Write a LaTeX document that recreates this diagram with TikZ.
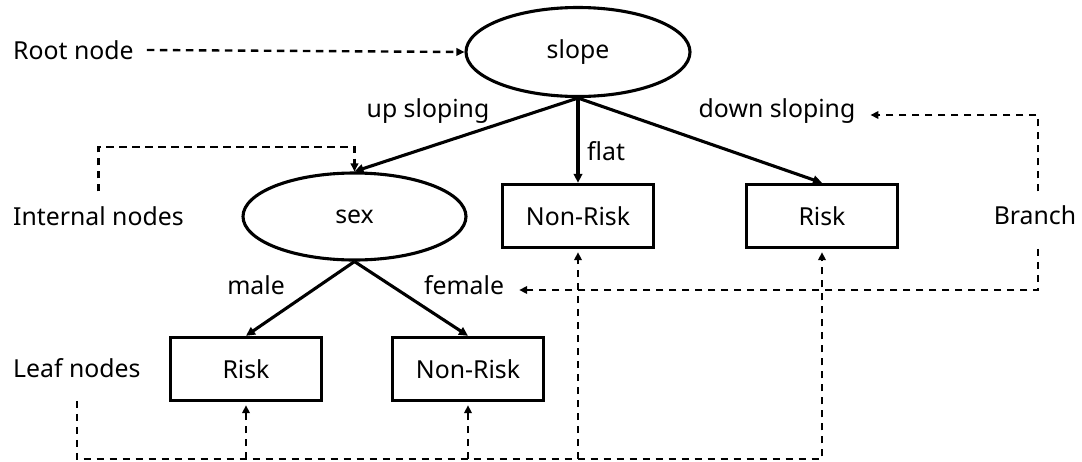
\documentclass[tikz,border=0pt]{standalone}
\usepackage{fontspec}
\setmainfont{Noto Sans}
\usetikzlibrary{arrows.meta,shapes.geometric}
\begin{document}
\begin{tikzpicture}[x=1pt,y=-1pt,
  every node/.style={font=\fontsize{24.8}{28}\selectfont, inner sep=3pt},
  ellnode/.style={draw, ellipse, line width=3.1pt, inner sep=0pt},
  boxnode/.style={draw, rectangle, line width=3.4pt, minimum width=151pt, minimum height=63pt, inner sep=0pt},
  treeedge/.style={line width=3.1pt, -{Triangle[length=9pt,width=8.5pt]}},
  pointer/.style={line width=2.4pt, dash pattern=on 7.5pt off 5.5pt, -{Triangle[length=8pt,width=7.5pt]}}]
\useasboundingbox[fill=white] (0,0) rectangle (1082,461);

% tree nodes
\node[ellnode, minimum width=224pt, minimum height=89pt] (slope) at (578,52) {slope};
\node[ellnode, minimum width=223pt, minimum height=87pt] (sex) at (354.5,216.5) {sex};
\node[boxnode] (nr1) at (578,216) {Non-Risk};
\node[boxnode] (r1) at (822,216) {Risk};
\node[boxnode] (r2) at (246,369) {Risk};
\node[boxnode] (nr2) at (468,369) {Non-Risk};

% branch labels
\node (up) at (428,111) {up sloping};
\node (ds) at (777,111) {down sloping};
\node[anchor=west] (fl) at (584,151) {flat};
\node (ml) at (256,285) {male};
\node (fe) at (464,285) {female};

% tree edges
\draw[treeedge] (slope.south) -- (sex.north);
\draw[treeedge] (slope.south) -- (nr1.north);
\draw[treeedge] (slope.south) -- (r1.north);
\draw[treeedge] (sex.south) -- (r2.north);
\draw[treeedge] (sex.south) -- (nr2.north);

% annotation labels
\node[anchor=west] (rn) at (10,50) {Root node};
\node[anchor=west] (inn) at (10,216) {Internal nodes};
\node[anchor=west] (lf) at (10,368) {Leaf nodes};
\node (br) at (1035,215) {Branch};

% annotation pointers
\coordinate (ic) at (354.5,147);
\coordinate (bl) at (0,459);
\draw[pointer] ([xshift=10pt]rn.east) -- (slope.west);
\draw[pointer] ([yshift=12pt]inn.north) |- (ic) -- (sex.north);
\draw[pointer] ([xshift=3pt,yshift=11pt]br.north) |- ([xshift=12pt,yshift=-4pt]ds.east);
\draw[pointer] ([xshift=3pt,yshift=-21pt]br.south) |- ([xshift=12pt,yshift=-5pt]fe.east);
\draw[pointer] ([yshift=-20pt]lf.south) |- (r1.south |- bl) -- ([yshift=-3pt]r1.south);
\draw[pointer] (r2.south |- bl) -- ([yshift=-3pt]r2.south);
\draw[pointer] (nr2.south |- bl) -- ([yshift=-3pt]nr2.south);
\draw[pointer] (nr1.south |- bl) -- ([yshift=-3pt]nr1.south);
\end{tikzpicture}
\end{document}
